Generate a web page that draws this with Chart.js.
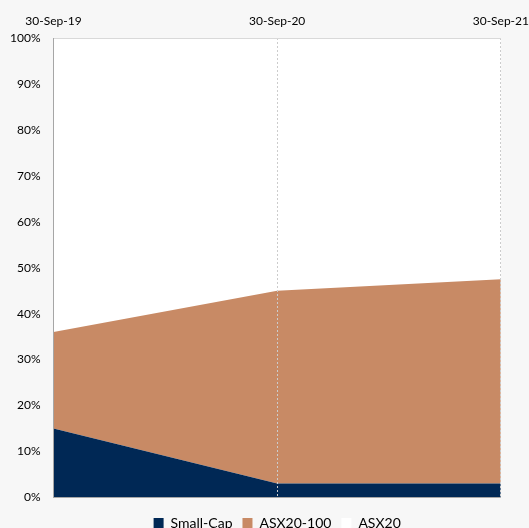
<!DOCTYPE html>
<html>
<head>
<meta charset="utf-8">
<script src="https://cdn.jsdelivr.net/npm/chart.js@4/dist/chart.umd.min.js"></script>
<style>
  html, body { margin: 0; padding: 0; background: #f7f7f7; overflow: hidden; }
  #wrap { width: 529px; height: 540px; position: relative; }
</style>
</head>
<body>
<div id="wrap"><canvas id="chart"></canvas></div>
<script>
// Share of portfolio by market-cap bucket
const dates = ['30-Sep-19', '30-Sep-20', '30-Sep-21'];
const smallCap = [15, 3, 3];
const asx20to100 = [21, 42, 44.5];
const asx20 = [64, 55, 52.5];

// white plot area behind the stacked areas
const plotBg = {
  id: 'plotBg',
  beforeDraw(chart) {
    const a = chart.chartArea;
    const ctx = chart.ctx;
    ctx.save();
    ctx.fillStyle = '#ffffff';
    ctx.fillRect(a.left, a.top, a.right - a.left, a.bottom - a.top);
    ctx.restore();
  }
};

const ctx = document.getElementById('chart').getContext('2d');
new Chart(ctx, {
  type: 'line',
  data: {
    labels: dates,
    datasets: [
      {
        label: 'Small-Cap',
        data: smallCap,
        backgroundColor: '#002855',
        borderColor: '#002855',
        borderWidth: 0,
        pointRadius: 0,
        fill: 'origin'
      },
      {
        label: 'ASX20-100',
        data: asx20to100,
        backgroundColor: '#c88a65',
        borderColor: '#c88a65',
        borderWidth: 0,
        pointRadius: 0,
        fill: '-1'
      },
      {
        label: 'ASX20',
        data: asx20,
        backgroundColor: '#ffffff',
        borderColor: '#ffffff',
        borderWidth: 0,
        pointRadius: 0,
        fill: '-1'
      }
    ]
  },
  options: {
    responsive: true,
    maintainAspectRatio: false,
    animation: false,
    layout: {
      padding: { left: -3, right: 0, top: 4, bottom: 0 }
    },
    plugins: {
      // empty spacer between plot and legend
      title: {
        display: true,
        text: ' ',
        position: 'bottom',
        weight: 500,
        padding: 0,
        font: { size: 7, lineHeight: 1.25 }
      },
      legend: {
        display: true,
        position: 'bottom',
        fullSize: false,
        labels: {
          boxWidth: 10,
          boxHeight: 10,
          padding: 10,
          color: '#000000',
          font: { family: 'Lato', size: 14 }
        }
      },
      tooltip: { enabled: false }
    },
    scales: {
      x: {
        position: 'top',
        offset: false,
        // let the last date label run to the canvas edge
        afterFit: function(scale) {
          scale.paddingRight = Math.max(scale.paddingRight - 10, 0);
        },
        grid: {
          display: true,
          z: 1,
          color: function(c) {
            return c.index === 0 ? 'rgba(0,0,0,0)' : '#cccccc';
          },
          drawTicks: false
        },
        border: { display: false, dash: [2, 2] },
        ticks: {
          color: '#000000',
          maxRotation: 0,
          padding: 10,
          font: { family: 'Lato', size: 12 }
        }
      },
      y: {
        stacked: true,
        min: 0,
        max: 100,
        grid: {
          display: true,
          z: 1,
          drawTicks: false,
          color: function(c) {
            if (c.tick.value === 0) return '#a6a6a6';
            if (c.tick.value === 100) return '#d9d9d9';
            return 'rgba(0,0,0,0)';
          }
        },
        border: { display: true, color: '#a6a6a6', width: 1, z: 1 },
        ticks: {
          stepSize: 10,
          color: '#000000',
          padding: 13,
          font: { family: 'Lato', size: 12 },
          callback: function(value) {
            return value + '%';
          }
        }
      }
    }
  },
  plugins: [plotBg]
});
</script>
</body>
</html>
